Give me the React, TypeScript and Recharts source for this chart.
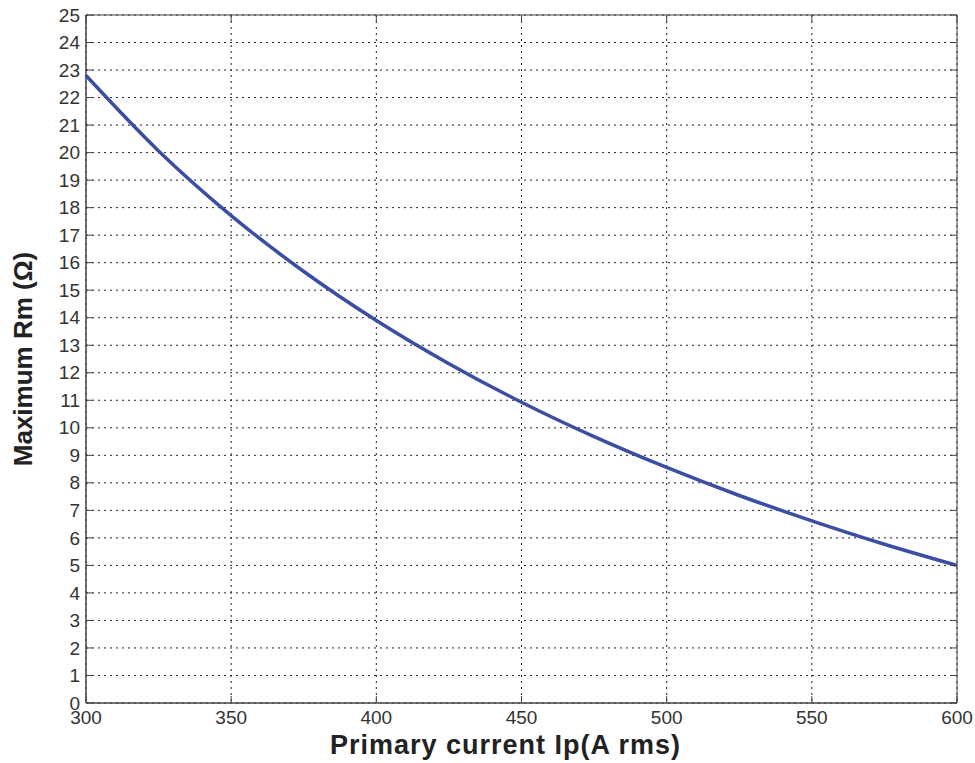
import { LineChart, Line, XAxis, YAxis, CartesianGrid, ReferenceArea, Label } from 'recharts';

// primary current (A rms) and the max burden resistance
const current = [300, 325, 350, 375, 400, 425, 450, 475, 500, 525, 550, 575, 600];
const maxRm = [22.8, 20.06, 17.71, 15.68, 13.9, 12.33, 10.93, 9.68, 8.56, 7.54, 6.62, 5.77, 5.0];

const xTicks = [300, 350, 400, 450, 500, 550, 600];
const yTicks = [0, 1, 2, 3, 4, 5, 6, 7, 8, 9, 10, 11, 12, 13, 14, 15, 16, 17, 18, 19, 20, 21, 22, 23, 24, 25];

const data = current.map((ip, i) => ({ ip, rm: maxRm[i] }));

const W = 975;
const H = 763;
const PLOT_LEFT = 86;
const PLOT_RIGHT = 957;
const PLOT_TOP = 15;
const PLOT_BOTTOM = 703;
const TICK_LEN = 7;
const FONT = '"Liberation Sans", Arial, sans-serif';
const AXIS_COLOR = '#444';

function YTick(props: any) {
  const { x, y, payload } = props;
  return (
    <g>
      <line x1={PLOT_LEFT} x2={PLOT_LEFT + TICK_LEN} y1={y} y2={y} stroke={AXIS_COLOR} />
      <line x1={PLOT_RIGHT - TICK_LEN} x2={PLOT_RIGHT} y1={y} y2={y} stroke={AXIS_COLOR} />
      <text x={x} y={y} dy="0.35em" textAnchor="end" fontSize={19} fill="#333" fontFamily={FONT}>
        {payload.value}
      </text>
    </g>
  );
}

function XTick(props: any) {
  const { x, y, payload } = props;
  return (
    <g>
      <line x1={x} x2={x} y1={PLOT_BOTTOM - TICK_LEN} y2={PLOT_BOTTOM} stroke={AXIS_COLOR} />
      <line x1={x} x2={x} y1={PLOT_TOP} y2={PLOT_TOP + TICK_LEN} stroke={AXIS_COLOR} />
      <text x={x} y={y} dy="0.71em" textAnchor="middle" fontSize={19} fill="#333" fontFamily={FONT}>
        {payload.value}
      </text>
    </g>
  );
}

export default function App() {
  return (
    <div style={{ position: 'absolute', left: 0, top: 0, width: W, height: H, background: '#fff' }}>
      <LineChart
        width={W}
        height={H}
        data={data}
        margin={{ top: PLOT_TOP, right: W - PLOT_RIGHT, bottom: 0, left: 0 }}
      >
        <CartesianGrid stroke="#222" strokeDasharray="2 4" />
        <XAxis
          dataKey="ip"
          type="number"
          domain={[300, 600]}
          ticks={xTicks}
          height={H - PLOT_BOTTOM}
          tickSize={0}
          tickMargin={8}
          tickLine={false}
          axisLine={{ stroke: AXIS_COLOR }}
          tick={<XTick />}
          interval={0}
        >
          <Label
            value="Primary current Ip(A rms)"
            position="insideBottom"
            offset={9}
            dx={-16}
            style={{ fontSize: 27, fontWeight: 'bold', fill: '#222', fontFamily: FONT, letterSpacing: 1 }}
          />
        </XAxis>
        <YAxis
          type="number"
          domain={[0, 25]}
          ticks={yTicks}
          width={PLOT_LEFT}
          tickSize={0}
          tickMargin={6}
          tickLine={false}
          axisLine={{ stroke: AXIS_COLOR }}
          tick={<YTick />}
          interval={0}
        >
          <Label
            value="Maximum Rm (Ω)"
            angle={-90}
            position="insideLeft"
            offset={23}
            style={{ fontSize: 26, fontWeight: 'bold', fill: '#222', fontFamily: FONT, textAnchor: 'middle' }}
          />
        </YAxis>
        <ReferenceArea x1={300} x2={600} y1={0} y2={25} fill="none" stroke={AXIS_COLOR} strokeOpacity={1} fillOpacity={0} />
        <Line
          type="monotone"
          dataKey="rm"
          stroke="#3a4ea2"
          strokeWidth={3.5}
          dot={false}
          isAnimationActive={false}
        />
      </LineChart>
    </div>
  );
}
